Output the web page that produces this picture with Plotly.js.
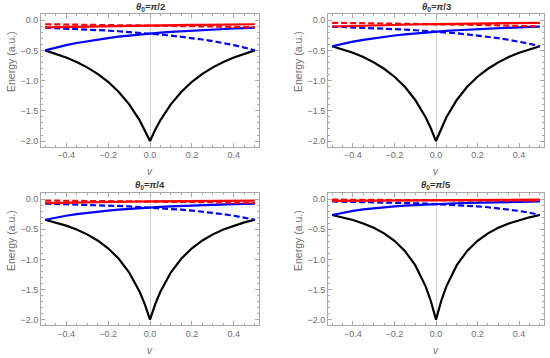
<!DOCTYPE html>
<html>
<head>
<meta charset="utf-8">
<script src="https://cdn.plot.ly/plotly-3.0.1.min.js"></script>
<style>html,body{margin:0;padding:0;background:#fff;}#chart{width:550px;height:358px;}</style>
</head>
<body>
<div id="chart"></div>
<script>
// ---- data ----
const panelTitles = ['<i>θ</i><sub>0</sub>=<i>π</i>/2', '<i>θ</i><sub>0</sub>=<i>π</i>/3', '<i>θ</i><sub>0</sub>=<i>π</i>/4', '<i>θ</i><sub>0</sub>=<i>π</i>/5'];
const yTitle = 'Energy (a.u.)';
const xTitle = 'v';

const v = [-0.5,-0.45,-0.4,-0.35,-0.3,-0.25,-0.2,-0.15,-0.1,-0.05,0,0.05,0.1,0.15,0.2,0.25,0.3,0.35,0.4,0.45,0.5];
const vBlack = [-0.5,-0.45,-0.4,-0.35,-0.3,-0.25,-0.2,-0.15,-0.1,-0.05,-0.025,0,0.025,0.05,0.1,0.15,0.2,0.25,0.3,0.35,0.4,0.45,0.5];

const black1 = [-0.5,-0.554,-0.617,-0.692,-0.781,-0.889,-1.020,-1.183,-1.389,-1.653,-1.814,-2.0,-1.814,-1.653,-1.389,-1.183,-1.020,-0.889,-0.781,-0.692,-0.617,-0.554,-0.5];
const black2 = [-0.431,-0.481,-0.540,-0.611,-0.698,-0.804,-0.936,-1.103,-1.320,-1.607,-1.788,-2.0,-1.788,-1.607,-1.320,-1.103,-0.936,-0.804,-0.698,-0.611,-0.540,-0.481,-0.431];
const black3 = [-0.343,-0.387,-0.440,-0.505,-0.585,-0.686,-0.816,-0.986,-1.215,-1.535,-1.744,-2.0,-1.744,-1.535,-1.215,-0.986,-0.816,-0.686,-0.585,-0.505,-0.440,-0.387,-0.343];
const black4 = [-0.264,-0.302,-0.347,-0.404,-0.476,-0.569,-0.692,-0.860,-1.097,-1.449,-1.691,-2.0,-1.691,-1.449,-1.097,-0.860,-0.692,-0.569,-0.476,-0.404,-0.347,-0.302,-0.264];

const blueSolid1 = [-0.5,-0.4535,-0.413,-0.378,-0.347,-0.32,-0.296,-0.274,-0.255,-0.238,-0.222,-0.208,-0.195,-0.184,-0.173,-0.163,-0.154,-0.146,-0.1385,-0.1315,-0.125];
const blueDash1 = [-0.125,-0.1315,-0.1385,-0.146,-0.154,-0.163,-0.173,-0.184,-0.195,-0.208,-0.222,-0.238,-0.255,-0.274,-0.296,-0.32,-0.347,-0.378,-0.413,-0.4535,-0.5];
const blueSolid2 = [-0.431,-0.391,-0.3555,-0.325,-0.298,-0.2745,-0.2536,-0.235,-0.2184,-0.2035,-0.190,-0.1779,-0.1668,-0.1568,-0.1477,-0.1393,-0.1316,-0.1245,-0.118,-0.112,-0.1065];
const blueDash2 = [-0.1065,-0.112,-0.118,-0.1245,-0.1316,-0.1393,-0.1477,-0.1568,-0.1668,-0.1779,-0.190,-0.2035,-0.2184,-0.235,-0.2536,-0.2745,-0.298,-0.325,-0.3555,-0.391,-0.431];
const blueSolid3 = [-0.342,-0.3063,-0.2758,-0.2497,-0.2272,-0.2076,-0.1904,-0.1752,-0.1618,-0.1499,-0.1392,-0.1297,-0.1211,-0.1133,-0.1062,-0.0998,-0.094,-0.0886,-0.0837,-0.0792,-0.0751];
const blueDash3 = [-0.0751,-0.0792,-0.0837,-0.0886,-0.094,-0.0998,-0.1062,-0.1133,-0.1211,-0.1297,-0.1392,-0.1499,-0.1618,-0.1752,-0.1904,-0.2076,-0.2272,-0.2497,-0.2758,-0.3063,-0.342];
const blueSolid4 = [-0.263,-0.2257,-0.1958,-0.1715,-0.1514,-0.1347,-0.1206,-0.1086,-0.0983,-0.0894,-0.0816,-0.0749,-0.0689,-0.0636,-0.0589,-0.0547,-0.051,-0.0476,-0.0445,-0.0417,-0.0392];
const blueDash4 = [-0.0392,-0.0417,-0.0445,-0.0476,-0.051,-0.0547,-0.0589,-0.0636,-0.0689,-0.0749,-0.0816,-0.0894,-0.0983,-0.1086,-0.1206,-0.1347,-0.1514,-0.1715,-0.1958,-0.2257,-0.263];

const redSolid1 = [-0.1181,-0.1144,-0.111,-0.1076,-0.1045,-0.1014,-0.0985,-0.0957,-0.0931,-0.0905,-0.0881,-0.0857,-0.0834,-0.0813,-0.0792,-0.0772,-0.0752,-0.0734,-0.0716,-0.0698,-0.0682];
const redDash1 = [-0.0682,-0.0698,-0.0716,-0.0734,-0.0752,-0.0772,-0.0792,-0.0813,-0.0834,-0.0857,-0.0881,-0.0905,-0.0931,-0.0957,-0.0985,-0.1014,-0.1045,-0.1076,-0.111,-0.1144,-0.1181];
const redSolid2 = [-0.105,-0.0995,-0.0945,-0.0898,-0.0854,-0.0814,-0.0776,-0.0741,-0.0708,-0.0677,-0.0649,-0.0622,-0.0597,-0.0573,-0.055,-0.0529,-0.0509,-0.0491,-0.0473,-0.0456,-0.044];
const redDash2 = [-0.044,-0.0456,-0.0473,-0.0491,-0.0509,-0.0529,-0.055,-0.0573,-0.0597,-0.0622,-0.0649,-0.0677,-0.0708,-0.0741,-0.0776,-0.0814,-0.0854,-0.0898,-0.0945,-0.0995,-0.105];
const redSolid3 = [-0.0661,-0.0619,-0.0582,-0.0547,-0.0516,-0.0487,-0.0461,-0.0437,-0.0414,-0.0393,-0.0374,-0.0356,-0.034,-0.0324,-0.031,-0.0296,-0.0284,-0.0272,-0.0261,-0.025,-0.024];
const redDash3 = [-0.024,-0.025,-0.0261,-0.0272,-0.0284,-0.0296,-0.031,-0.0324,-0.034,-0.0356,-0.0374,-0.0393,-0.0414,-0.0437,-0.0461,-0.0487,-0.0516,-0.0547,-0.0582,-0.0619,-0.0661];
const redSolid4 = [-0.028,-0.0262,-0.0246,-0.0231,-0.0217,-0.0204,-0.0192,-0.0181,-0.017,-0.016,-0.0151,-0.0143,-0.0135,-0.0128,-0.0121,-0.0115,-0.0109,-0.0104,-0.0099,-0.0094,-0.009];
const redDash4 = [-0.009,-0.0094,-0.0099,-0.0104,-0.0109,-0.0115,-0.0121,-0.0128,-0.0135,-0.0143,-0.0151,-0.016,-0.017,-0.0181,-0.0192,-0.0204,-0.0217,-0.0231,-0.0246,-0.0262,-0.028];

const xTickVals = [-0.4,-0.2,0,0.2,0.4];
const yTickVals = [-2,-1.5,-1,-0.5,0];

// ---- build ----
const panels = [
  {black: black1, bs: blueSolid1, bd: blueDash1, rs: redSolid1, rd: redDash1},
  {black: black2, bs: blueSolid2, bd: blueDash2, rs: redSolid2, rd: redDash2},
  {black: black3, bs: blueSolid3, bd: blueDash3, rs: redSolid3, rd: redDash3},
  {black: black4, bs: blueSolid4, bd: blueDash4, rs: redSolid4, rd: redDash4}
];
const W = 550, H = 358;
// pixel boxes [left, right, top, bottom]
const boxes = [[41,259,13.5,146.5],[328,544,13.5,146.5],[41,259,192.5,325],[328,544,192.5,325]];
const LW = 2.2, DASH = '6px,3px';
const traces = [];
const layout = {
  width: W, height: H, margin: {l:0,r:0,t:0,b:0}, showlegend: false,
  paper_bgcolor: '#fff', plot_bgcolor: '#fff',
  font: {family: 'Liberation Sans, Arial, sans-serif', size: 9, color: '#6e6e6e'},
  annotations: []
};
const frameColor = '#a8a8a8';
panels.forEach((p, i) => {
  const n = i + 1;
  const xa = n === 1 ? 'x' : 'x' + n, ya = n === 1 ? 'y' : 'y' + n;
  traces.push({x: vBlack, y: p.black, xaxis: xa, yaxis: ya, mode: 'lines', line: {color: '#000', width: LW}});
  traces.push({x: v, y: p.bs, xaxis: xa, yaxis: ya, mode: 'lines', line: {color: '#0000ff', width: LW}});
  traces.push({x: v, y: p.bd, xaxis: xa, yaxis: ya, mode: 'lines', line: {color: '#0000ff', width: LW, dash: DASH}});
  traces.push({x: v, y: p.rs, xaxis: xa, yaxis: ya, mode: 'lines', line: {color: '#ff0000', width: LW}});
  traces.push({x: v, y: p.rd, xaxis: xa, yaxis: ya, mode: 'lines', line: {color: '#ff0000', width: LW, dash: DASH}});
  const b = boxes[i];
  const common = {showline: true, linecolor: frameColor, linewidth: 1, mirror: 'allticks', ticks: 'inside',
    ticklen: 4, tickcolor: frameColor, tickwidth: 1, showgrid: false, tickformat: '.1f',
    tickfont: {size: 9, color: '#6e6e6e'}, fixedrange: true};
  layout['xaxis' + (n === 1 ? '' : n)] = Object.assign({}, common, {
    domain: [b[0] / W, b[1] / W], anchor: ya, range: [-0.52, 0.52],
    tickmode: 'array', tickvals: xTickVals,
    zeroline: true, zerolinecolor: '#cfcfcf', zerolinewidth: 1,
    minor: {dtick: 0.05, tick0: 0, ticks: 'inside', ticklen: 2, tickcolor: frameColor, showgrid: false}
  });
  layout['yaxis' + (n === 1 ? '' : n)] = Object.assign({}, common, {
    domain: [(H - b[3]) / H, (H - b[2]) / H], anchor: xa, range: [-2.09, 0.11],
    tickmode: 'array', tickvals: yTickVals, zeroline: false,
    minor: {dtick: 0.1, tick0: 0, ticks: 'inside', ticklen: 2, tickcolor: frameColor, showgrid: false}
  });
  const cx = (b[0] + b[1]) / 2;
  layout.annotations.push({text: panelTitles[i], xref: 'paper', yref: 'paper', x: cx / W, y: (H - (b[2] - 7)) / H,
    xanchor: 'center', yanchor: 'middle', showarrow: false, font: {size: 9.5, color: '#333', weight: 'bold'}});
  layout.annotations.push({text: xTitle, xref: 'paper', yref: 'paper', x: cx / W, y: (H - (b[3] + 25)) / H,
    xanchor: 'center', yanchor: 'middle', showarrow: false, font: {size: 10, color: '#6e6e6e', style: 'italic'}});
  layout.annotations.push({text: yTitle, xref: 'paper', yref: 'paper', x: (b[0] - 30) / W, y: (H - (b[2] + 48.5)) / H,
    xanchor: 'center', yanchor: 'middle', textangle: -90, showarrow: false, font: {size: 10.5, color: '#6e6e6e'}});
});
Plotly.newPlot('chart', traces, layout, {displayModeBar: false, staticPlot: true});
</script>
</body>
</html>
